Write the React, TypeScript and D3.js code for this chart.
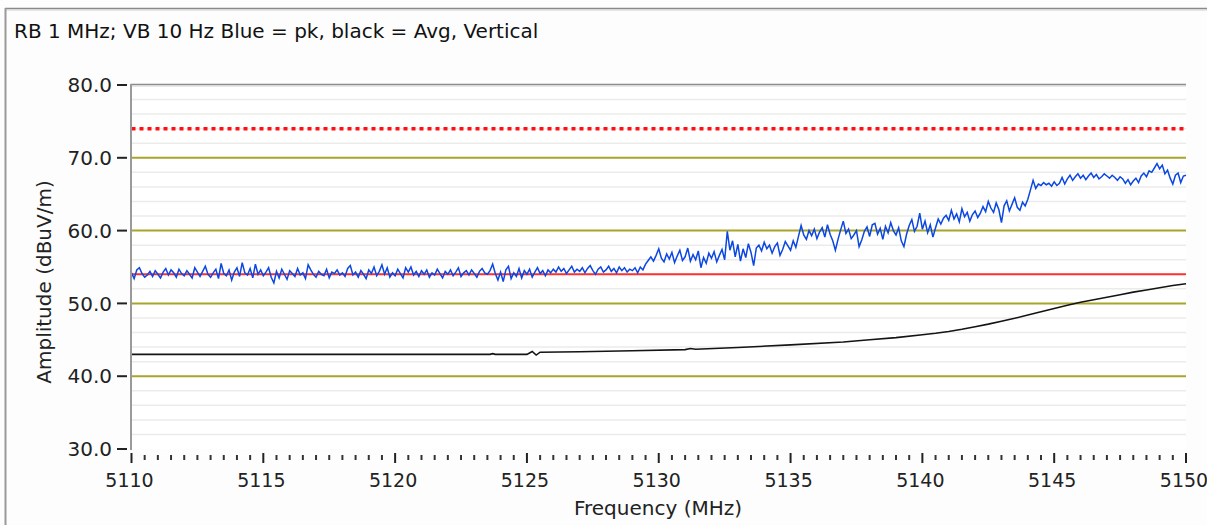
import React from "react";
import * as d3 from "d3";

const titleText = "RB 1 MHz; VB 10 Hz Blue = pk, black = Avg, Vertical";
const xLabel = "Frequency (MHz)";
const yLabel = "Amplitude (dBuV/m)";

const xMajorTicks = [5110, 5115, 5120, 5125, 5130, 5135, 5140, 5145, 5150];
const yMajorTicks = [30, 40, 50, 60, 70, 80];
const yGridMajor = [40, 50, 60, 70];
const yGridMinor = [32, 34, 36, 38, 42, 44, 46, 48, 52, 54, 56, 58, 62, 64, 66, 68, 72, 74, 76, 78];

const peakLimit = 74;
const avgLimit = 54;

const blueStartFreq = 5110;
const blueStep = 0.1;
// peak trace, one row per MHz (0.1 MHz steps)
const blueValues = [
  54.2, 53.4, 54.6, 54.9, 54.1, 53.6, 53.9, 54.4, 53.7, 54.5,
  54.0, 53.5, 54.3, 54.8, 53.9, 54.6, 54.2, 53.6, 54.7, 54.1,
  53.8, 54.5, 54.0, 53.5, 54.9, 54.3, 53.7, 54.4, 55.1, 54.0,
  53.6, 54.2, 54.7, 53.4, 55.5, 54.1, 53.8, 54.6, 53.2, 54.3,
  54.9, 53.7, 55.6, 54.2, 53.9, 54.8, 53.5, 55.4, 54.0, 54.6,
  53.8, 54.3, 54.9, 53.6, 52.8, 54.4, 53.5, 54.7, 54.0, 53.3,
  54.5, 54.1, 53.7, 54.8, 53.9, 54.2, 53.4, 55.3, 54.6, 54.0,
  53.6, 54.4, 54.0, 53.8, 54.7, 53.5, 54.3, 54.1, 54.6, 53.9,
  54.2, 53.7, 54.8, 55.2, 53.9, 54.3, 53.6, 54.5, 54.0, 53.4,
  54.6, 54.1, 55.0, 53.8, 54.4, 55.3, 54.0, 54.9, 53.6, 54.2,
  53.8, 54.7, 54.1, 53.5, 54.9, 54.3, 55.0, 53.9, 54.4, 53.7,
  54.5, 54.0, 54.6, 53.6, 54.2, 53.9, 54.7, 54.1, 53.5, 54.4,
  54.0, 54.6, 53.8, 54.3, 54.9, 53.7, 54.2, 54.5, 53.9, 54.6,
  54.1, 53.6, 54.4, 54.8, 54.2, 54.0, 54.5, 55.4, 54.1, 53.2,
  54.3, 53.0, 54.6, 55.1, 53.4, 54.2, 53.7, 54.8, 53.5, 54.5,
  54.0, 54.7, 53.6, 54.3, 54.9, 54.1, 54.5, 53.8, 54.6, 54.2,
  54.7, 54.3, 55.0, 54.4, 54.8, 54.1, 54.6, 55.1, 54.3, 54.7,
  54.4, 54.9, 54.2, 54.8, 55.2, 54.5, 54.0, 54.7, 55.0, 54.3,
  54.6, 55.1, 54.4, 54.8, 54.2, 55.0, 54.5, 54.9, 54.3, 54.7,
  54.5, 54.9, 54.2, 55.0, 54.6, 55.4, 55.9, 56.4, 55.8, 56.6,
  57.5, 56.2, 55.7, 56.8, 56.1, 57.0, 55.6, 56.5, 57.3, 55.9,
  56.4, 57.6, 55.8, 56.7, 56.0, 57.2, 54.9, 56.3, 55.5, 56.9,
  56.2, 57.1, 55.7, 56.6, 57.4, 56.0, 59.9, 57.3, 58.6, 56.4,
  58.1, 55.8, 57.5, 56.3, 58.2, 57.0, 55.2, 57.6, 58.0, 57.2,
  58.4, 57.5, 58.0, 56.9, 57.8, 58.3, 56.6, 57.4, 58.5, 57.9,
  57.3, 58.6, 57.7, 59.2, 60.7, 59.4, 58.8, 60.0, 59.3, 60.2,
  58.9, 59.8, 60.4, 59.1, 60.8, 59.5, 58.6, 57.3, 58.8, 60.1,
  61.3, 59.6, 60.2, 58.9, 59.4, 60.0, 57.8, 58.7, 59.9, 60.5,
  59.2, 60.8, 61.0, 59.5, 60.3, 58.8, 60.6, 59.7, 61.1, 60.0,
  59.4, 60.4, 58.6, 57.8, 59.5, 60.7, 61.5, 59.9, 60.6, 62.4,
  60.2, 61.3, 59.7, 60.8, 59.1, 60.4, 61.6, 60.9, 61.7, 62.1,
  61.4, 62.8, 61.6, 62.3, 61.2, 63.0, 61.9, 62.5, 61.3, 62.2,
  62.7, 61.8, 62.4, 63.3, 62.6, 64.0, 63.1, 62.5, 63.8, 62.9,
  61.1, 63.4, 64.1, 62.7, 63.6, 64.5, 63.2, 62.8, 63.9, 63.4,
  64.3, 65.6, 66.9, 65.8, 66.4, 66.2, 66.6, 66.3, 66.5, 66.1,
  66.7, 66.2, 66.5, 67.3, 66.4, 67.1, 67.6, 66.9, 67.4, 67.8,
  67.2, 67.6, 67.0, 67.5, 67.9, 67.3, 67.7, 67.1, 67.4, 67.8,
  67.5, 67.2, 67.6, 67.3, 66.9, 67.4, 67.1, 66.5, 67.0, 66.3,
  66.8, 67.2, 66.6, 67.5, 67.9, 67.4, 68.2, 68.0, 68.6, 69.2,
  68.5, 69.0, 67.8, 68.3, 67.2, 66.4, 67.6, 67.9, 66.6, 67.5,
  67.6,
];

const avgFreqs = [
  5110, 5115, 5120, 5123.6, 5123.7, 5123.8, 5125.0, 5125.2, 5125.35, 5125.5,
  5127, 5129, 5131.0, 5131.2, 5131.4, 5133, 5135, 5137, 5138, 5139,
  5140, 5140.5, 5141, 5141.5, 5142, 5142.5, 5143, 5143.5, 5144, 5144.5,
  5145, 5145.5, 5146, 5146.5, 5147, 5147.5, 5148, 5148.5, 5149, 5149.5, 5150,
];
const avgValues = [
  43.0, 43.0, 43.0, 43.0, 43.1, 43.0, 43.0, 43.4, 42.9, 43.3,
  43.35, 43.5, 43.65, 43.8, 43.7, 43.95, 44.3, 44.7, 45.0, 45.3,
  45.7, 45.9, 46.15, 46.45, 46.8, 47.15, 47.55, 47.95, 48.4, 48.85,
  49.3, 49.75, 50.15, 50.5, 50.85, 51.2, 51.55, 51.85, 52.15, 52.45, 52.7,
];

const W = 1207;
const H = 525;
const m = { left: 131.5, right: 1186, top: 85, bottom: 449 };
const FONT = "'DejaVu Sans', Verdana, sans-serif";

export default function App() {
  const x = d3.scaleLinear().domain([5110, 5150]).range([m.left, m.right]);
  const y = d3.scaleLinear().domain([30, 80]).range([m.bottom, m.top]);

  const bluePts: [number, number][] = blueValues.map((v, i) => [blueStartFreq + i * blueStep, v]);
  const avgPts: [number, number][] = avgFreqs.map((f, i) => [f, avgValues[i]]);
  const line = d3
    .line<[number, number]>()
    .x((d) => x(d[0]))
    .y((d) => y(d[1]));

  const minorX = d3.range(0, 81).map((i) => 5110 + i * 0.5).filter((f) => !xMajorTicks.includes(f));

  return (
    <svg
      width={W}
      height={H}
      style={{ position: "absolute", left: 0, top: 0, background: "#fdfdfd" }}
      fontFamily={FONT}
    >
      <rect x={0} y={0} width={W} height={H} fill="#fdfdfd" />
      {/* outer window frame */}
      <line x1={5} x2={W} y1={8.5} y2={8.5} stroke="#8a8a8a" strokeWidth={1.5} />
      <line x1={5} x2={W} y1={10} y2={10} stroke="#cfcfcf" strokeWidth={1} />
      <line x1={5.5} x2={5.5} y1={8} y2={H} stroke="#9a9a9a" strokeWidth={2} />

      <text x={14} y={38} fontSize={20} fill="#111">{titleText}</text>

      {/* plot background */}
      <rect x={m.left} y={m.top} width={m.right - m.left} height={m.bottom - m.top} fill="#ffffff" />

      {/* minor grid */}
      {yGridMinor.map((v) => (
        <line key={"mg" + v} x1={m.left} x2={m.right} y1={y(v)} y2={y(v)} stroke="#ebebeb" strokeWidth={1.5} />
      ))}
      {/* major grid */}
      {yGridMajor.map((v) => (
        <line key={"Mg" + v} x1={m.left} x2={m.right} y1={y(v)} y2={y(v)} stroke="#aaa32c" strokeWidth={2} />
      ))}

      {/* limit lines */}
      <line x1={m.left} x2={m.right} y1={y(peakLimit)} y2={y(peakLimit)} stroke="#ff1010" strokeWidth={3.5} strokeDasharray="4,4" />
      <line x1={m.left} x2={m.right} y1={y(avgLimit)} y2={y(avgLimit)} stroke="#ff3030" strokeWidth={2} />

      {/* traces */}
      <path d={line(avgPts) || ""} fill="none" stroke="#141414" strokeWidth={1.6} />
      <path d={line(bluePts) || ""} fill="none" stroke="#0b47e0" strokeWidth={1.5} strokeLinejoin="miter" />

      {/* plot frame top/left */}
      <line x1={m.left - 1} x2={m.right} y1={m.top - 0.5} y2={m.top - 0.5} stroke="#8c8c8c" strokeWidth={1.5} />
      <line x1={m.left} x2={m.right} y1={m.top + 1} y2={m.top + 1} stroke="#d0d0d0" strokeWidth={1} />
      <line x1={m.left - 0.5} x2={m.left - 0.5} y1={m.top - 1} y2={m.bottom + 1} stroke="#9a9a9a" strokeWidth={2} />

      {/* y ticks */}
      {yMajorTicks.map((v) => (
        <g key={"yt" + v}>
          <line x1={117} x2={127} y1={y(v)} y2={y(v)} stroke="#222" strokeWidth={2} />
          <text x={112} y={y(v)} dy="0.36em" textAnchor="end" fontSize={20} fill="#222">
            {v.toFixed(1)}
          </text>
        </g>
      ))}

      {/* x ticks */}
      {minorX.map((f) => (
        <line key={"xm" + f} x1={x(f)} x2={x(f)} y1={455} y2={460} stroke="#333" strokeWidth={2} />
      ))}
      {xMajorTicks.map((f) => (
        <g key={"xt" + f}>
          <line x1={x(f)} x2={x(f)} y1={453} y2={463} stroke="#222" strokeWidth={2} />
          <text x={x(f) - 2} y={487} textAnchor="middle" fontSize={19} fill="#222">
            {f}
          </text>
        </g>
      ))}

      <text x={658} y={515} textAnchor="middle" fontSize={20} fill="#222">{xLabel}</text>
      <text
        transform={`translate(51, 282) rotate(-90)`}
        textAnchor="middle"
        fontSize={20}
        fill="#222"
      >
        {yLabel}
      </text>
    </svg>
  );
}
